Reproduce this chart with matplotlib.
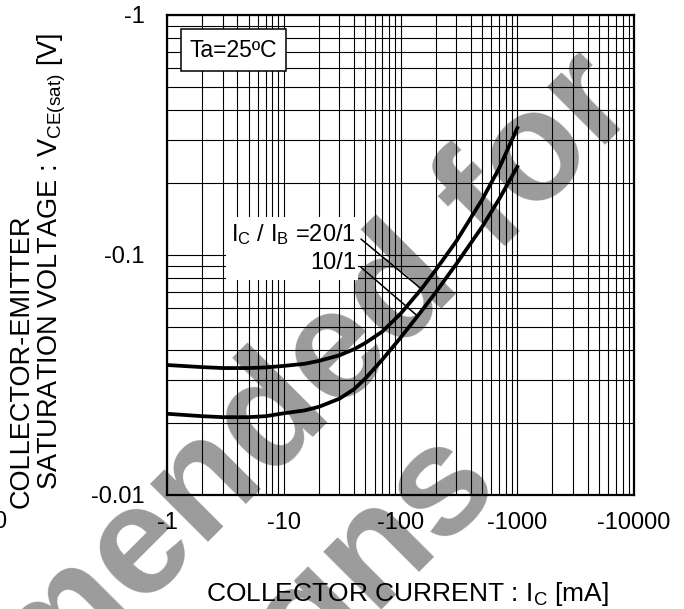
import matplotlib
matplotlib.use('Agg')
import matplotlib.pyplot as plt
from matplotlib.patches import Rectangle
from matplotlib.ticker import FixedLocator, FixedFormatter, LogLocator, NullFormatter

plt.rcParams['font.family'] = ['Liberation Sans', 'DejaVu Sans']
plt.rcParams['mathtext.default'] = 'regular'

# collector current |Ic| [mA] and saturation voltage |Vce(sat)| [V]
ic = [1, 2, 3, 5, 7, 10, 15, 20, 30, 40, 50, 70, 100, 150, 200, 300, 500, 700, 1000]
vce_20 = [0.0348, 0.0341, 0.0338, 0.0338, 0.0340, 0.0345, 0.0352, 0.0362, 0.0382, 0.0405,
          0.0430, 0.0480, 0.0569, 0.0719, 0.0865, 0.114, 0.170, 0.230, 0.338]
vce_10 = [0.0218, 0.0213, 0.0211, 0.0211, 0.0213, 0.0219, 0.0225, 0.0233, 0.0252, 0.0276,
          0.0306, 0.0367, 0.0452, 0.0581, 0.0698, 0.0916, 0.131, 0.171, 0.233]

x_ticks = [1, 10, 100, 1000, 10000]
x_labels = ['-1', '-10', '-100', '-1000', '-10000']
y_ticks = [0.01, 0.1, 1]
y_labels = ['-0.01', '-0.1', '-1']

# where the ratio labels point on each curve (Ic, Vce)
ptr_20 = (153, 0.0718)
ptr_10 = (141, 0.0555)

fig = plt.figure(figsize=(6.84, 6.09), dpi=100)
fig.patch.set_facecolor('white')

# watermark, behind everything
wm = dict(fontsize=112, fontweight='bold', color='#9b9b9b', rotation=45,
          rotation_mode='anchor', ha='center', va='baseline', zorder=-10)
fig.text(0.102, -0.117, 'Not recommended for', **wm)
fig.text(0.253, -0.345, 'new designs', **wm)

ax = fig.add_axes([0.2442, 0.1872, 0.6827, 0.7882])
ax.patch.set_facecolor('none')
ax.set_xscale('log')
ax.set_yscale('log')
ax.set_xlim(1, 10000)
ax.set_ylim(0.01, 1)

ax.xaxis.set_major_locator(FixedLocator(x_ticks))
ax.xaxis.set_major_formatter(FixedFormatter(x_labels))
ax.yaxis.set_major_locator(FixedLocator(y_ticks))
ax.yaxis.set_major_formatter(FixedFormatter(y_labels))
ax.xaxis.set_minor_locator(LogLocator(base=10, subs=range(2, 10)))
ax.yaxis.set_minor_locator(LogLocator(base=10, subs=range(2, 10)))
ax.xaxis.set_minor_formatter(NullFormatter())
ax.yaxis.set_minor_formatter(NullFormatter())

ax.tick_params(which='both', length=0, labelsize=17)
ax.tick_params(axis='y', pad=16)
ax.tick_params(axis='x', pad=12)
ax.set_axisbelow(True)
ax.grid(which='both', color='black', linewidth=0.8)
for s in ax.spines.values():
    s.set_linewidth(1.6)

ax.plot(ic, vce_20, color='black', linewidth=2.7, zorder=4)
ax.plot(ic, vce_10, color='black', linewidth=2.7, zorder=4)

# white area behind the ratio labels
ax.add_patch(Rectangle((0.126, 0.448), 0.283, 0.131, transform=ax.transAxes,
                       facecolor='white', edgecolor='none', zorder=1))
ax.annotate(r'I$_C$ / I$_B$ =20/1', xy=ptr_20, xycoords='data',
            xytext=(0.4047, 0.5417), textcoords='axes fraction',
            ha='right', va='center', fontsize=17, zorder=5,
            arrowprops=dict(arrowstyle='-', color='black', linewidth=1.1,
                            relpos=(1, 0.5), shrinkA=2, shrinkB=0))
ax.annotate('10/1', xy=ptr_10, xycoords='data',
            xytext=(0.4047, 0.4833), textcoords='axes fraction',
            ha='right', va='center', fontsize=17, zorder=5,
            arrowprops=dict(arrowstyle='-', color='black', linewidth=1.1,
                            relpos=(1, 0.5), shrinkA=2, shrinkB=0))

# temperature box
ax.add_patch(Rectangle((0.030, 0.883), 0.225, 0.0875, transform=ax.transAxes,
                       facecolor='white', edgecolor='black', linewidth=1.1, zorder=5))
ax.text(0.1424, 0.927, 'Ta=25ºC', transform=ax.transAxes, ha='center', va='center',
        fontsize=16.5, zorder=6)

# axis titles
fig.text(0.031, 0.407, 'COLLECTOR-EMITTER', rotation=90, ha='center', va='center',
         fontsize=19.5)
fig.text(0.076, 0.570, r'SATURATION VOLTAGE : V$_{CE(sat)}$ [V]', rotation=90,
         ha='center', va='center', fontsize=19.5)
fig.text(0.5958, 0.013, r'COLLECTOR CURRENT : I$_C$ [mA]', ha='center', va='baseline',
         fontsize=19)
fig.text(0.0088, 0.143, '0', ha='right', va='center', fontsize=17)

fig.savefig('out.png', dpi=100, facecolor='white')
